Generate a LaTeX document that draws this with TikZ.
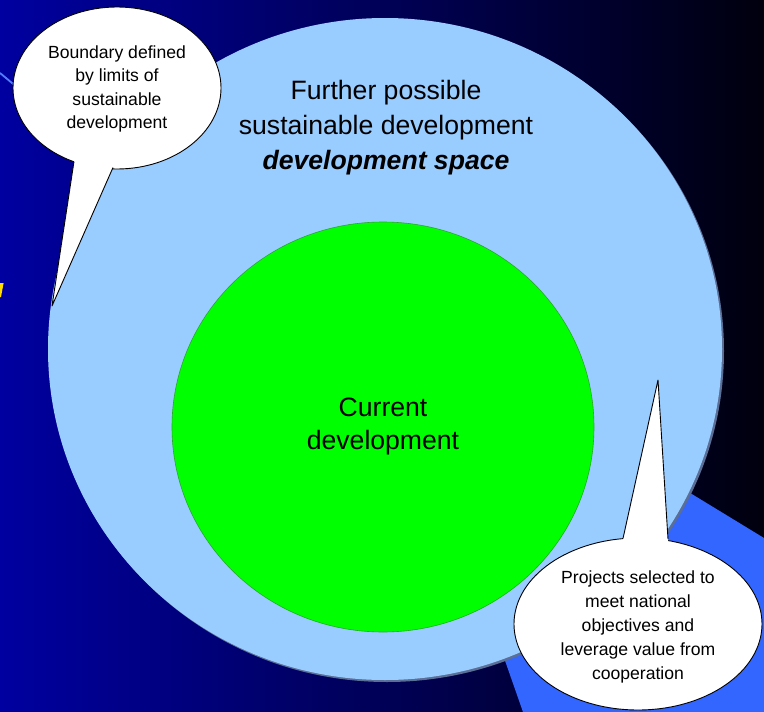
\documentclass[tikz,border=0pt]{standalone}
\usepackage{fontspec}
\setmainfont{Liberation Sans}
\usetikzlibrary{shapes.geometric}
\definecolor{bgleft}{RGB}{0,0,160}
\definecolor{bgright}{RGB}{0,0,14}
\definecolor{lightblue}{RGB}{153,204,255}
\definecolor{brightblue}{RGB}{51,102,255}
\definecolor{shadowblue}{RGB}{90,110,150}
\definecolor{greenfill}{RGB}{0,255,0}
\definecolor{greenedge}{RGB}{40,170,40}
\definecolor{ymark}{RGB}{255,220,0}
\tikzset{
  callout/.style={ellipse, fill=white, draw=black, line width=0.9pt, align=center, inner sep=0pt,
    font=\fontsize{17.6}{23.8}\selectfont},
  tailline/.style={draw=black, line width=0.9pt, line join=round},
  bigtext/.style={align=center, font=\fontsize{26.6}{35}\selectfont},
}
\begin{document}
\begin{tikzpicture}[x=1pt,y=-1pt]
\useasboundingbox (0,0) rectangle (764,712);
% background
\shade[left color=bgleft, right color=bgright] (0,0) rectangle (764,712);
% background decorations
\fill[brightblue] (380,304) -- (764,538) -- (764,712) -- (523,712) -- cycle;
\draw[brightblue!85!white, line width=1.8pt] (0,73) -- (18,88);
\fill[ymark] (0,283) -- (3.6,283) -- (1,297) -- (0,297) -- cycle;
% development space
\fill[shadowblue] (387,351) ellipse [x radius=337, y radius=331];
\node[ellipse, fill=lightblue, minimum width=674, minimum height=662, inner sep=0pt] (space) at (385,349) {};
\node[bigtext] (spacetext) at (386,127.5) {Further possible\\sustainable development\\\textbf{\textit{development space}}};
% current development
\node[ellipse, fill=greenfill, draw=greenedge, line width=0.6pt, minimum width=422, minimum height=410, inner sep=0pt] (current) at (383,427) {};
\node[bigtext, font=\fontsize{26.6}{33.5}\selectfont] (currenttext) at (383,426.5) {Current\\development};
% callout 1
\node[callout, minimum width=208, minimum height=162] (c1) at (117,88) {};
\node[align=center, font=\fontsize{17.6}{23.5}\selectfont] (c1text) at (117,89) {Boundary defined\\by limits of\\sustainable\\development};
\coordinate (t1) at (52,306);
\coordinate (b1a) at (74,161.5);
\coordinate (b1b) at (113,167.5);
\fill[white] (t1) -- (b1a) -- (76,150) -- (111,156) -- (b1b) -- cycle;
\draw[tailline] (b1a) -- (t1) -- (b1b);
% callout 2
\node[callout, minimum width=248, minimum height=172] (c2) at (638,624) {};
\node[align=center, font=\fontsize{17.6}{23.8}\selectfont] (c2text) at (638,627) {Projects selected to\\meet national\\objectives and\\leverage value from\\cooperation};
\coordinate (t2) at (658,380);
\coordinate (b2a) at (623,538.5);
\coordinate (b2b) at (668,539);
\fill[white] (t2) -- (b2a) -- (623,552) -- (668,552) -- (b2b) -- cycle;
\draw[tailline] (b2a) -- (t2) -- (b2b);
\end{tikzpicture}
\end{document}
